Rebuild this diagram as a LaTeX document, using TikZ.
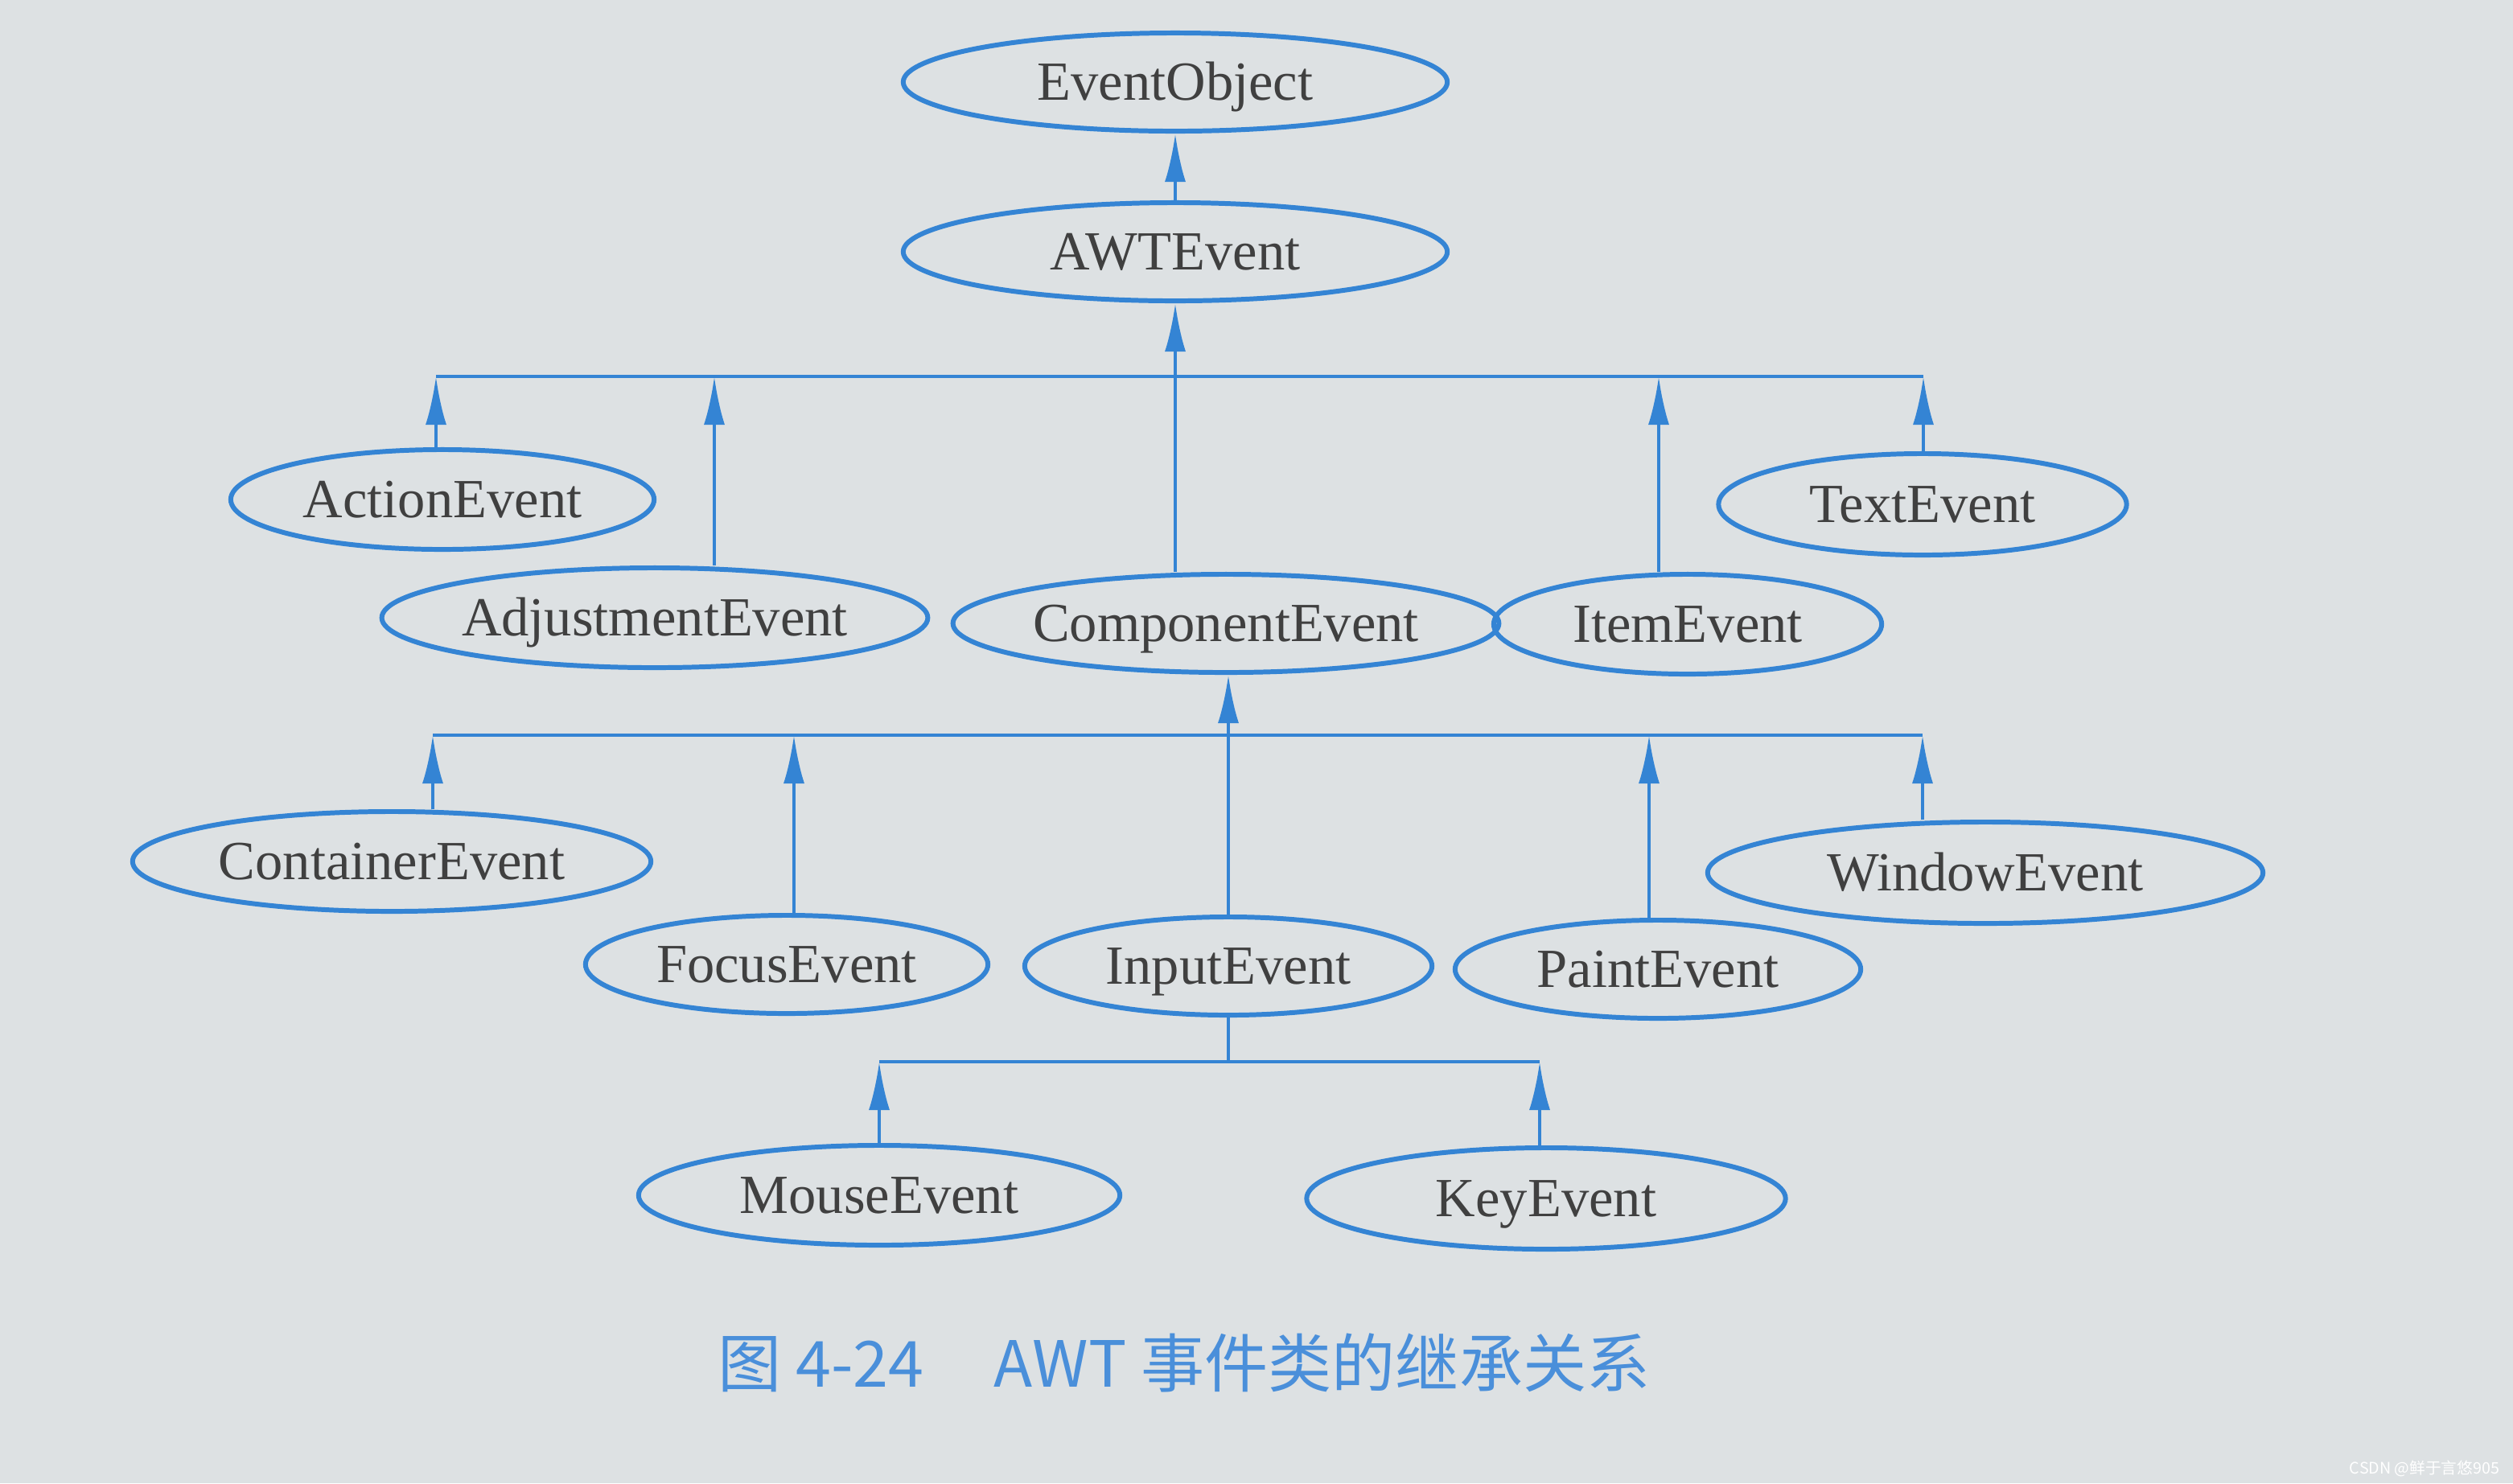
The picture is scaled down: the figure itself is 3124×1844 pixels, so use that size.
\documentclass[tikz,border=0pt]{standalone}
\usepackage{fontspec}
\setmainfont{Liberation Serif}
\newfontfamily\cjk{Noto Sans CJK SC}
\usetikzlibrary{shapes.geometric,arrows.meta}
\definecolor{paper}{HTML}{DDE1E3}
\definecolor{evblue}{HTML}{3484D4}
\definecolor{evtext}{HTML}{404040}
\definecolor{capblue}{HTML}{4A8FDA}
\tikzset{
  evt/.style={ellipse, draw=evblue, line width=1.7pt, minimum height=1.22cm, inner sep=0pt,
    text height=12.9pt, text depth=0pt, text=evtext, font=\fontsize{19.5}{22}\selectfont},
  link/.style={draw=evblue, line width=1.2pt},
}
\begin{document}
\begin{tikzpicture}[x=0.01cm, y=-0.01cm, >={Latex[length=6mm,width=2.6mm]}]
    \useasboundingbox[fill=paper] (0,0) rectangle (3124,1844);
    % classes
    \node[evt, minimum width=6.76cm] (eobj) at (1461,102) {EventObject};
    \node[evt, minimum width=6.76cm] (awt) at (1461,313) {AWTEvent};
    \node[evt, minimum width=5.26cm, minimum height=1.24cm] (action) at (550,621) {ActionEvent};
    \node[evt, minimum width=6.42cm, minimum height=1.24cm] (adjust) at (814,768) {AdjustmentEvent};
    \node[evt, minimum width=6.52cm] (comp) at (1524,775) {ComponentEvent};
    \node[evt, minimum width=4.82cm, minimum height=1.24cm] (item) at (2098,776) {ItemEvent};
    \node[evt, minimum width=5.07cm, minimum height=1.26cm] (textev) at (2390,627) {TextEvent};
    \node[evt, minimum width=6.44cm, minimum height=1.24cm] (cont) at (487,1071) {ContainerEvent};
    \node[evt, minimum width=5.00cm] (focus) at (978,1199) {FocusEvent};
    \node[evt, minimum width=5.06cm] (input) at (1527,1201) {InputEvent};
    \node[evt, minimum width=5.04cm] (paint) at (2061,1205) {PaintEvent};
    \node[evt, minimum width=6.90cm, minimum height=1.26cm] (window) at (2468,1085) {WindowEvent};
    \node[evt, minimum width=5.98cm, minimum height=1.24cm] (mouse) at (1093,1486) {MouseEvent};
    \node[evt, minimum width=5.95cm, minimum height=1.26cm] (key) at (1922,1490) {KeyEvent};
    % bus junctions
    \coordinate (b1act) at (542,468);
    \coordinate (b1adj) at (888,468);
    \coordinate (b1item) at (2062,468);
    \coordinate (b1text) at (2391,468);
    \coordinate (b2cont) at (538,914);
    \coordinate (b2focus) at (987,914);
    \coordinate (b2paint) at (2050,914);
    \coordinate (b2win) at (2390,914);
    \coordinate (b3mouse) at (1093,1320);
    \coordinate (b3key) at (1914,1320);
    % inheritance
    \draw[link, ->] (awt) -- (eobj);
    \draw[link] (b1act) -- (b1text);
    \draw[link, ->] (comp.north -| awt.south) -- (awt.south);
    \draw[link, ->] (action.north -| b1act) -- (b1act);
    \draw[link, ->] (adjust.north -| b1adj) -- (b1adj);
    \draw[link, ->] (item.north -| b1item) -- (b1item);
    \draw[link, ->] (textev.north -| b1text) -- (b1text);
    \draw[link] (b2cont) -- (b2win);
    \draw[link, ->] (input.north) -- (input.north |- comp.south);
    \draw[link, ->] (cont.north -| b2cont) -- (b2cont);
    \draw[link, ->] (focus.north -| b2focus) -- (b2focus);
    \draw[link, ->] (paint.north -| b2paint) -- (b2paint);
    \draw[link, ->] (window.north -| b2win) -- (b2win);
    \draw[link] (input.south) -- (input.south |- b3mouse);
    \draw[link] (b3mouse) -- (b3key);
    \draw[link, ->] (mouse.north -| b3mouse) -- (b3mouse);
    \draw[link, ->] (key.north -| b3key) -- (b3key);
    % caption
    \node[font=\cjk\fontsize{22.5}{25}\selectfont, text=capblue, anchor=base] (cap) at (1472,1724)
        {图 4-24\hspace{1.1em}AWT 事件类的继承关系};
    \node[font=\cjk\fontsize{5.6}{6}\selectfont, text=white] (mark) at (3014,1826) {CSDN @鲜于言悠905};
\end{tikzpicture}
\end{document}
